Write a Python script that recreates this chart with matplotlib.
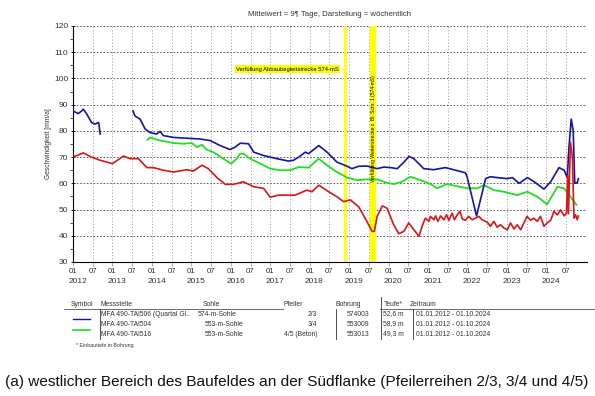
import matplotlib
matplotlib.use("Agg")
import matplotlib.pyplot as plt
import numpy as np
from matplotlib.lines import Line2D

plt.rcParams['font.family'] = ['Liberation Sans', 'DejaVu Sans']

# ---------------- data (decimal year, mm/a) ----------------
blue_t = [2012.00, 2012.13, 2012.22, 2012.26, 2012.35, 2012.47, 2012.56, 2012.65, 2012.69, np.nan,
          2013.52, 2013.57, 2013.70, 2013.83, 2013.95, 2014.12, 2014.21, 2014.29, 2014.55, 2014.88,
          2015.22, 2015.48, 2015.73, 2015.98, 2016.11, 2016.24, 2016.45, 2016.58, 2016.83, 2017.17,
          2017.46, 2017.59, 2017.72, 2017.89, 2017.97, 2018.23, 2018.44, 2018.69, 2018.95, 2019.07,
          2019.24, 2019.45, 2019.71, 2019.88, 2020.05, 2020.22, 2020.39, 2020.52, 2020.64, 2020.89,
          2021.14, 2021.44, 2021.70, 2021.95, 2021.99, 2022.23, 2022.46, 2022.58, 2022.75, 2023.01,
          2023.14, 2023.31, 2023.52, 2023.69, 2023.94, 2024.11, 2024.32, 2024.45, 2024.53, 2024.57,
          2024.63, 2024.68, 2024.72, 2024.78, 2024.81]
blue_v = [87.6, 86.6, 87.6, 88.3, 86.4, 83.2, 82.6, 83.2, 78.8, np.nan,
          87.6, 85.7, 84.5, 80.7, 79.4, 78.8, 79.8, 78.2, 77.5, 77.2,
          76.9, 76.3, 74.4, 72.9, 73.8, 75.3, 75.1, 71.9, 70.6, 69.4,
          68.5, 68.8, 70.0, 71.9, 71.3, 74.4, 71.9, 68.1, 66.5, 65.6,
          66.5, 66.6, 65.6, 66.2, 66.0, 65.6, 68.1, 70.3, 69.4, 65.6,
          65.2, 66.0, 65.0, 64.0, 62.5, 47.6, 61.8, 62.5, 62.2, 61.8,
          62.2, 60.0, 62.2, 60.6, 57.8, 60.6, 66.0, 65.0, 62.2, 73.2,
          84.5, 80.1, 60.0, 60.2, 61.8]

green_t = [2013.89, 2013.95, 2014.21, 2014.55, 2014.80, 2015.01, 2015.14, 2015.27, 2015.39, 2015.56,
           2015.81, 2016.01, 2016.15, 2016.24, 2016.32, 2016.49, 2016.75, 2017.00, 2017.25, 2017.51,
           2017.72, 2017.97, 2018.23, 2018.44, 2018.69, 2018.95, 2019.20, 2019.45, 2019.71, 2019.96,
           2020.13, 2020.34, 2020.55, 2020.81, 2021.07, 2021.23, 2021.48, 2021.74, 2021.99, 2022.25,
           2022.42, 2022.67, 2022.92, 2023.26, 2023.52, 2023.77, 2024.02, 2024.28, 2024.45, 2024.61,
           2024.76]
green_v = [76.6, 77.5, 76.3, 75.4, 75.1, 75.4, 73.8, 74.7, 72.8, 71.9,
           69.4, 67.5, 69.4, 71.3, 71.3, 69.4, 67.5, 65.6, 65.0, 65.0,
           66.2, 66.0, 69.4, 66.9, 64.3, 62.2, 61.2, 61.5, 61.5, 60.2,
           59.7, 60.6, 62.5, 61.2, 59.7, 58.1, 59.7, 58.9, 58.1, 58.1,
           59.3, 57.4, 56.8, 55.5, 56.8, 54.9, 52.0, 58.7, 58.1, 54.9,
           51.8]

red_t = [2012.00, 2012.26, 2012.47, 2012.69, 2013.00, 2013.28, 2013.45, 2013.66, 2013.87, 2014.04,
         2014.29, 2014.55, 2014.88, 2015.05, 2015.27, 2015.43, 2015.65, 2015.86, 2016.07, 2016.32,
         2016.58, 2016.83, 2017.00, 2017.21, 2017.63, 2017.93, 2018.06, 2018.23, 2018.48, 2018.69,
         2018.86, 2019.03, 2019.24, 2019.45, 2019.58, 2019.64, 2019.71, 2019.84, 2019.96, 2020.13,
         2020.26, 2020.39, 2020.51, 2020.64, 2020.77, 2020.85, 2020.93, 2021.02, 2021.06, 2021.15,
         2021.19, 2021.25, 2021.32, 2021.40, 2021.47, 2021.53, 2021.61, 2021.67, 2021.74, 2021.81,
         2021.87, 2021.95, 2022.03, 2022.12, 2022.20, 2022.29, 2022.37, 2022.46, 2022.52, 2022.58,
         2022.67, 2022.75, 2022.84, 2022.92, 2023.01, 2023.09, 2023.18, 2023.26, 2023.35, 2023.43,
         2023.51, 2023.60, 2023.68, 2023.77, 2023.85, 2023.94, 2024.02, 2024.11, 2024.19, 2024.28,
         2024.36, 2024.45, 2024.51, 2024.54, 2024.56, 2024.61, 2024.66, 2024.70, 2024.74, 2024.78,
         2024.81]
red_v = [70.0, 71.6, 70.0, 68.8, 67.5, 70.4, 69.4, 69.4, 66.0, 66.0,
         65.0, 64.3, 65.2, 64.7, 66.9, 65.6, 62.2, 59.6, 59.6, 60.6,
         58.7, 58.1, 54.7, 55.5, 55.5, 57.4, 56.8, 59.3, 56.8, 54.9,
         53.0, 53.7, 51.1, 45.5, 41.7, 41.7, 47.4, 51.4, 50.5, 44.2,
         40.8, 41.7, 44.9, 42.3, 39.8, 43.6, 46.7, 45.5, 47.4, 46.1,
         47.6, 45.5, 47.6, 46.1, 48.0, 45.9, 48.6, 46.1, 48.0, 49.3,
         46.4, 45.9, 47.4, 46.1, 46.7, 47.4, 46.1, 45.5, 44.9, 43.6,
         45.5, 43.3, 44.2, 43.0, 42.3, 44.9, 42.6, 44.2, 42.3, 44.9,
         47.4, 45.9, 46.7, 45.5, 47.4, 43.6, 44.9, 45.9, 49.3, 48.0,
         49.9, 47.6, 48.6, 63.1, 48.4, 75.7, 70.0, 46.7, 48.0, 46.1,
         47.6]

years = list(range(2012, 2025))
y_ticks = [30, 40, 50, 60, 70, 80, 90, 100, 110, 120]

title = "Mittelwert = 9\u00b6 Tage, Darstellung = wöchentlich"
ylabel = "Geschwindigkeit [mm/a]"
box_text = "Verfüllung Abbaubegleitstrecke 574-mS"
band_text = "Verfüllung Weiterstrecke z. Bl. Schr. 1 (574-mS)"
caption = "(a) westlicher Bereich des Baufeldes an der Südflanke (Pfeilerreihen 2/3, 3/4 und 4/5)"

thin_event = 2018.90
band_start, band_end = 2019.54, 2019.69

C_BLUE = "#1414a8"
C_GREEN = "#22dd22"
C_RED = "#dd1515"
C_YEL = "#ffff00"

W, H = 595, 396
fig = plt.figure(figsize=(W / 100, H / 100), dpi=100)
def fx(px): return px / W
def fy(py): return 1 - py / H

ax = fig.add_axes([fx(73), fy(262), fx(587) - fx(73), fy(26) - fy(262)])
ax.set_xlim(2012.0, 2025.03)
ax.set_ylim(30, 120)

# grid
for yv in y_ticks[1:]:
    ax.axhline(yv, color="#444444", lw=0.6, ls=(0, (2, 2)), zorder=1)
for yr in years:
    for m in (0.0, 0.5):
        xv = yr + m
        if xv > 2012.0:
            ax.axvline(xv, color="#777777", lw=0.5, ls=(0, (1.5, 3)), zorder=1)
ax.axvline(2025.03, color="#444444", lw=0.6, ls=(0, (2, 2)), zorder=1)

# events
ax.axvline(thin_event, color=C_YEL, lw=2.0, zorder=2)
ax.axvspan(band_start, band_end, color=C_YEL, lw=0, zorder=2)
ax.text((band_start + band_end) / 2, 60.5, band_text, rotation=90, fontsize=3.6,
        ha="center", va="bottom", zorder=6)
ax.annotate(box_text, xy=(thin_event, 103.5), xytext=(2017.44, 103.5),
            fontsize=4.2, ha="center", va="center", zorder=6,
            bbox=dict(boxstyle="square,pad=0.25", fc=C_YEL, ec="none"),
            arrowprops=dict(arrowstyle="-", color=C_YEL, lw=1.2))

# series
ax.plot(blue_t, blue_v, color=C_BLUE, lw=1.2, zorder=4)
ax.plot(green_t, green_v, color=C_GREEN, lw=1.3, zorder=3)
ax.plot(red_t, red_v, color=C_RED, lw=1.2, zorder=5)

# axes styling
for s in ("top", "right"):
    ax.spines[s].set_visible(False)
ax.spines["left"].set_linewidth(0.8)
ax.spines["bottom"].set_linewidth(0.8)
ax.set_yticks(y_ticks)
ax.set_yticklabels([str(v) for v in y_ticks], fontsize=6, color="#333333")
ax.set_yticks(np.arange(35, 120, 10), minor=True)
ax.tick_params(axis="y", which="major", length=3, width=0.6, pad=2, direction="inout")
ax.tick_params(axis="y", which="minor", length=2, width=0.5)
ax.set_ylabel(ylabel, fontsize=4.8, color="#333333", labelpad=1)

xt = []
xl = []
for yr in years:
    xt += [yr, yr + 0.5]
    xl += ["01", "07"]
ax.set_xticks(xt)
ax.set_xticklabels(xl, fontsize=5.6, color="#333333")
ax.tick_params(axis="x", length=3, width=0.5, pad=1.5, color="#888888")
for yr in years:
    ax.text(yr + 0.12, -0.082, str(yr), transform=ax.get_xaxis_transform(),
            fontsize=6, ha="center", va="center", color="#333333")

fig.text(fx(330), fy(15), title, fontsize=5.6, ha="center", va="center", color="#333333")

# legend table
fs = 4.9
tc = "#333333"
fig.text(fx(71), fy(304), "Symbol", fontsize=fs, va="center", color=tc)
fig.text(fx(100), fy(304), "Messstelle", fontsize=fs, va="center", color=tc)
fig.text(fx(203), fy(304), "Sohle", fontsize=fs, va="center", color=tc)
fig.text(fx(283), fy(304), "Pfeiler", fontsize=fs, va="center", color=tc)
fig.text(fx(335), fy(304), "Bohrung", fontsize=fs, va="center", color=tc)
fig.text(fx(384), fy(304), "Teufe*", fontsize=fs, va="center", color=tc)
fig.text(fx(410), fy(304), "Zeitraum", fontsize=fs, va="center", color=tc)

rows_name = ["MFA 490-TAl506 (Quartal Gl..", "MFA 490-TAl504", "MFA 490-TAl516"]
rows_sohle = ["574-m-Sohle", "553-m-Sohle", "553-m-Sohle"]
rows_pf = ["2/3", "3/4", "4/5 (Beton)"]
rows_bohr = ["574003", "553009", "553013"]
rows_teufe = ["52,6 m", "58,9 m", "49,3 m"]
rows_zeit = ["01.01.2012 - 01.10.2024"] * 3
row_y = [314, 324, 334]
sohle_x = [198, 205, 205]
for i, yy in enumerate(row_y):
    fig.text(fx(101), fy(yy), rows_name[i], fontsize=fs, va="center", color=tc)
    fig.text(fx(sohle_x[i]), fy(yy), rows_sohle[i], fontsize=fs, va="center", color=tc)
    fig.text(fx(317), fy(yy), rows_pf[i], fontsize=fs, va="center", ha="right", color=tc)
    fig.text(fx(369), fy(yy), rows_bohr[i], fontsize=fs, va="center", ha="right", color=tc)
    fig.text(fx(383), fy(yy), rows_teufe[i], fontsize=fs, va="center", color=tc)
    fig.text(fx(416), fy(yy), rows_zeit[i], fontsize=fs, va="center", color=tc)

fig.add_artist(Line2D([fx(73), fx(90)], [fy(319), fy(319)], color=C_BLUE, lw=1.0))
fig.add_artist(Line2D([fx(73), fx(90)], [fy(330), fy(330)], color=C_GREEN, lw=1.2))
fig.add_artist(Line2D([fx(64), fx(283)], [fy(309), fy(309)], color="#555555", lw=0.6))
fig.add_artist(Line2D([fx(380), fx(595)], [fy(309), fy(309)], color="#555555", lw=0.6))
for vx, y0, y1 in [(100, 309, 339), (336, 309, 339), (381, 297, 339), (413, 309, 339)]:
    fig.add_artist(Line2D([fx(vx), fx(vx)], [fy(y0), fy(y1)], color="#333333", lw=0.6))
fig.text(fx(76), fy(346), "* Einbautiefe in Bohrung", fontsize=3.8, va="center", color=tc)

fig.text(fx(5), fy(382), caption, fontsize=11.1, va="center", ha="left", color="#111111")

fig.savefig("out.png", dpi=100)
